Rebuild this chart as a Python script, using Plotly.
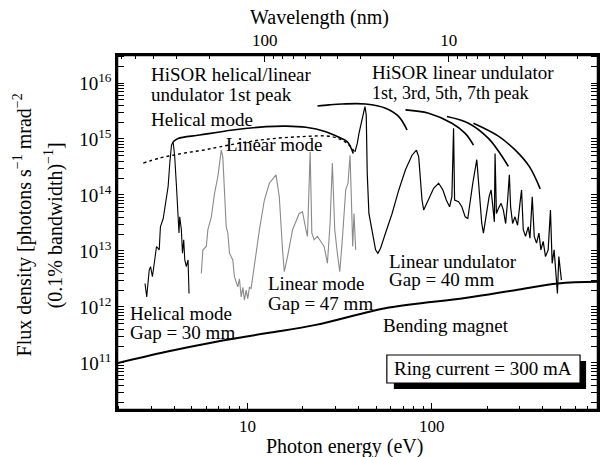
import numpy as np
import plotly.graph_objects as go

HC = 1239.84  # eV*nm, photon energy <-> wavelength

# ---------------- data (energy in eV, flux as log10 of photons/s/mrad^2/0.1%bw) -------------
bm_energy = [1.93, 3.63, 6.78, 12.6, 23.5, 58.6, 152, 283, 485, 800]
bm_log_flux = [10.99, 11.20, 11.38, 11.53, 11.68, 11.99, 12.16, 12.30, 12.42, 12.45]

helical_energy = [2.78, 2.84, 2.93, 2.98, 3.05, 3.14, 3.21, 3.32, 3.37, 3.49, 3.60, 3.71, 3.79,
                  3.87, 3.95, 4.03, 4.12, 4.20, 4.25, 4.29, 4.38, 4.44, 4.51, 4.57, 4.66, 4.76, 4.82]
helical_log_flux = [12.42, 12.18, 12.66, 12.72, 12.54, 12.84, 13.08, 13.02, 13.43, 13.58, 13.91,
                    14.15, 14.57, 14.89, 14.95, 14.68, 14.15, 13.55, 13.32, 13.61, 13.38, 12.96,
                    13.20, 12.84, 12.72, 12.84, 12.24]

lin47_energy = [5.62, 5.73, 5.98, 6.10, 6.37, 6.63, 6.91, 7.21, 7.35, 7.51, 7.67, 7.83, 7.99,
                8.33, 8.50, 8.86, 9.05, 9.25, 9.45, 9.63, 9.84, 10.04, 10.25, 10.47, 10.91,
                11.62, 12.36, 13.15, 14.29, 14.89, 15.51, 15.85, 16.51, 17.58, 19.10, 19.91,
                20.77, 21.18, 21.90, 22.37, 23.03, 23.99, 25.02, 26.08, 27.18, 28.09, 28.91,
                29.79, 30.77, 31.71, 32.74, 34.16, 35.16, 36.05, 36.64, 37.28, 37.89, 38.70]
lin47_log_flux = [12.60, 13.02, 13.08, 13.38, 13.61, 14.03, 14.33, 14.80, 14.68, 14.15, 13.43,
                  13.32, 12.96, 12.84, 12.54, 12.36, 12.50, 12.18, 12.35, 12.12, 12.30, 12.15,
                  12.35, 12.33, 12.78, 13.38, 13.91, 14.21, 14.36, 13.97, 13.02, 12.63, 12.90,
                  13.38, 13.67, 13.70, 13.38, 13.26, 14.77, 13.32, 13.20, 13.26, 13.17, 13.08,
                  12.78, 13.49, 14.57, 13.38, 12.96, 12.63, 13.20, 14.09, 14.21, 14.71, 13.97,
                  13.08, 13.67, 13.02]

lin40_energy = [38.35, 39.48, 40.32, 42.01, 43.44, 44.15, 44.70, 45.65, 46.62, 47.56, 49.62,
                51.06, 52.81, 56.20, 61.00, 66.32, 72.08, 78.26, 82.67, 85.07, 86.89, 88.65,
                90.55, 94.33, 102.5, 109.1, 115.1, 120.1, 125.1, 128.8, 131.5, 133.2, 140.0,
                145.8, 152.1, 157.1, 161.9, 167.2, 175.8, 181.1, 187.1, 191.0, 199.1, 205.1,
                210.3, 214.5, 219.0, 220.9, 224.6, 230.3, 238.2, 245.1, 252.2, 258.5, 264.1,
                268.3, 275.1, 283.4, 292.7, 301.6, 307.7, 314.3, 323.4, 334.5, 341.7, 351.6,
                360.5, 371.0, 382.2, 391.8, 403.2, 414.9, 429.0, 441.5, 451.0, 462.3, 475.7,
                481.7, 490.2, 498.2, 506.3]
lin40_log_flux = [14.77, 14.92, 15.10, 15.34, 15.58, 15.43, 14.39, 13.67, 13.49, 13.32, 13.02,
                  12.96, 13.05, 13.32, 13.67, 14.09, 14.45, 14.71, 14.80, 14.68, 14.27, 13.91,
                  13.73, 13.85, 14.12, 14.21, 14.09, 13.91, 13.79, 13.97, 15.19, 13.91, 13.88,
                  13.79, 13.61, 13.58, 13.91, 14.21, 14.63, 14.09, 13.49, 13.32, 13.67, 13.97,
                  14.09, 13.85, 13.52, 14.74, 13.67, 13.76, 13.85, 13.73, 13.49, 13.91, 14.36,
                  13.79, 13.49, 13.61, 13.46, 13.85, 14.09, 13.38, 13.26, 13.43, 13.23, 13.97,
                  13.26, 13.14, 13.32, 13.02, 13.17, 12.90, 13.02, 13.73, 12.78, 13.02, 12.54,
                  12.24, 12.90, 12.66, 12.48]

# 1st-peak envelopes of the helical/linear undulator
env_helical_energy = [3.95, 4.20, 5.50, 8.33, 12.62, 16.19, 20.77, 26.64, 31.43, 34.85, 37.55]
env_helical_log_flux = [14.95, 15.01, 15.07, 15.16, 15.22, 15.23, 15.21, 15.13, 15.03, 14.95, 14.74]
env_linear_energy = [2.72, 3.34, 3.95, 4.66, 5.73, 7.06, 11.61, 19.10, 28.91, 34.85, 38.70]
env_linear_log_flux = [14.57, 14.66, 14.71, 14.755, 14.80, 14.86, 14.98, 15.04, 15.04, 14.92, 14.74]

# linear undulator harmonic envelopes (1st, 3rd, 5th, 7th)
h1_energy = [23.99, 27.75, 32.74, 43.82, 56.20, 66.32, 73.54]
h1_log_flux = [15.59, 15.61, 15.625, 15.625, 15.55, 15.40, 15.16]
h3_energy = [72.08, 96.3, 128.8, 152.1, 168.7]
h3_log_flux = [15.52, 15.46, 15.28, 15.10, 14.89]
h5_energy = [121.0, 158.5, 203.3, 235.2, 260.8]
h5_log_flux = [15.40, 15.28, 15.01, 14.74, 14.51]
h7_energy = [168.7, 230.3, 284.6, 338.6, 388.4]
h7_log_flux = [15.28, 15.05, 14.80, 14.51, 14.11]

y_tick_exponents = [11, 12, 13, 14, 15, 16]
x_tick_values = [10, 100]
wl_tick_values = [10, 100]
wl_minor_values = [m * 10 ** d for d in range(0, 3) for m in range(2, 10)]

# ---------------- figure ----------------
FONT = "Liberation Serif"
fig = go.Figure()


def add_line(x, logy, color="black", width=1.2, dash="solid", shape="linear"):
    fig.add_trace(go.Scatter(x=x, y=10 ** np.array(logy), mode="lines",
                             line=dict(color=color, width=width, dash=dash, shape=shape),
                             showlegend=False, hoverinfo="skip"))


add_line(bm_energy, bm_log_flux, width=2.0, shape="spline")
add_line(lin47_energy, lin47_log_flux, color="#8a8a8a", width=1.1)
add_line(helical_energy, helical_log_flux, width=1.1)
add_line(lin40_energy, lin40_log_flux, width=1.2)
add_line(env_helical_energy, env_helical_log_flux, width=1.6, shape="spline")
add_line(env_linear_energy, env_linear_log_flux, width=1.4, dash="dot", shape="spline")
for ex, ey in [(h1_energy, h1_log_flux), (h3_energy, h3_log_flux),
               (h5_energy, h5_log_flux), (h7_energy, h7_log_flux)]:
    add_line(ex, ey, width=1.6, shape="spline")

x_lo, x_hi = 0.292, 2.903
# invisible trace on the top (wavelength-labelled) axis
fig.add_trace(go.Scatter(x=[10 ** x_lo, 10 ** x_hi], y=[1e12, 1e12], xaxis="x2", mode="lines",
                         line=dict(width=0), opacity=0, showlegend=False, hoverinfo="skip"))

minor_x = [m * 10 ** d for d in range(0, 3) for m in range(2, 10)]
minor_y = [m * 10 ** d for d in range(10, 17) for m in range(2, 10)]

axis_common = dict(showgrid=False, zeroline=False, showline=True, linecolor="black",
                   linewidth=1.5, ticks="inside", ticklen=7, tickwidth=1.2, tickcolor="black")
minor_common = dict(ticks="inside", ticklen=4, tickcolor="black", tickwidth=1, showgrid=False)

fig.update_layout(
    width=602, height=457,
    margin=dict(l=117, r=2, t=55, b=47),
    paper_bgcolor="white", plot_bgcolor="white",
    font=dict(family=FONT, color="black"),
    xaxis=dict(type="log", range=[x_lo, x_hi], tickvals=x_tick_values,
               ticktext=[str(v) for v in x_tick_values],
               tickfont=dict(family=FONT, size=17, color="black"),
               minor=dict(tickvals=minor_x, **minor_common), **axis_common),
    xaxis2=dict(type="log", overlaying="x", side="top", anchor="y", range=[x_lo, x_hi],
                tickvals=[HC / w for w in wl_tick_values],
                ticktext=[str(w) for w in wl_tick_values],
                tickfont=dict(family=FONT, size=17, color="black"),
                minor=dict(tickvals=[HC / w for w in wl_minor_values], **minor_common),
                **axis_common),
    yaxis=dict(type="log", range=[10.16, 16.5], tickvals=[10.0 ** e for e in y_tick_exponents],
               ticktext=["10<sup>%d</sup>" % e for e in y_tick_exponents], mirror="allticks",
               tickfont=dict(family=FONT, size=19, color="black"),
               minor=dict(tickvals=minor_y, **minor_common), **axis_common),
)

# plot frame drawn in axis-domain coordinates
frame_line = dict(color="black", width=2.5)
for x0, x1, y0, y1 in [(0, 1, 1, 1), (1, 1, 0, 1), (0, 1, 0, 0), (0, 0, 0, 1)]:
    fig.add_shape(type="line", xref="x domain", yref="y domain", x0=x0, x1=x1, y0=y0, y1=y1,
                  line=frame_line, layer="above")

# Ring current box with drop shadow
fig.add_shape(type="rect", xref="paper", yref="paper", x0=0.5756, x1=0.9752, y0=0.0592, y1=0.138,
              fillcolor="black", line=dict(width=0))
fig.add_shape(type="rect", xref="paper", yref="paper", x0=0.561, x1=0.9627, y0=0.0761, y1=0.1549,
              fillcolor="white", line=dict(color="black", width=1.2))


def note(text, x, y, size=19, xanchor="left", angle=0):
    fig.add_annotation(text=text, xref="paper", yref="paper", x=x, y=y, xanchor=xanchor,
                       yanchor="middle", showarrow=False, textangle=angle,
                       font=dict(family=FONT, size=size, color="black"))


note("HiSOR helical/linear", 0.0663, 0.9437)
note("undulator 1st peak", 0.0663, 0.8901)
note("Helical mode", 0.0663, 0.8197)
note("Linear mode", 0.2215, 0.7465)
note("HiSOR linear undulator", 0.5259, 0.9493)
note("1st, 3rd, 5th, 7th peak", 0.5259, 0.8930, size=18)
note("Helical mode", 0.0228, 0.2732)
note("Gap = 30 mm", 0.0228, 0.2197)
note("Linear mode", 0.3106, 0.3577)
note("Gap = 47 mm", 0.3106, 0.3014)
note("Linear undulator", 0.5611, 0.4197)
note("Gap = 40 mm", 0.5611, 0.3662)
note("Bending magnet", 0.5487, 0.2394)
note("Ring current = 300 mA", 0.7619, 0.1155, xanchor="center")

note("Wavelength (nm)", 0.4203, 1.107, size=20, xanchor="center")
note("Photon energy (eV)", 0.472, -0.103, size=20, xanchor="center")
note("Flux density [photons s<sup>\u22121</sup> mrad<sup>\u22122</sup>", -0.1967, 0.521,
     size=20, xanchor="center", angle=-90)
note("(0.1% bandwidth)<sup>\u22121</sup>]", -0.1325, 0.521, size=20, xanchor="center", angle=-90)

fig.write_html("out.html", post_script="document.body.style.margin='0';",
               config={"displayModeBar": False})
